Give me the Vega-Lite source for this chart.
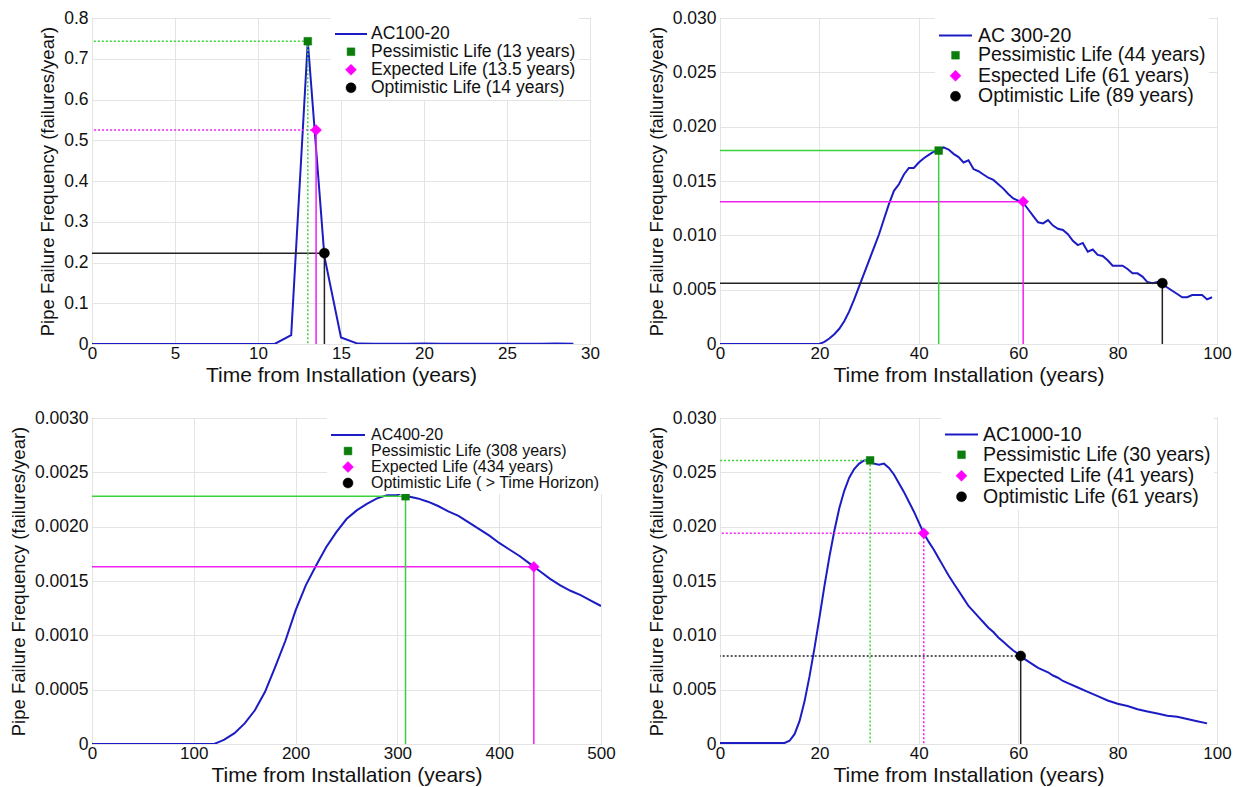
{
  "$schema": "https://vega.github.io/schema/vega-lite/v6.json",
  "padding": {"left": 8, "top": 8, "right": 0, "bottom": 0},
  "background": "white",
  "datasets": {
    "c1": [{"t":0,"f":0},{"t":1,"f":0},{"t":2,"f":0},{"t":3,"f":0},{"t":4,"f":0},{"t":5,"f":0},{"t":6,"f":0},{"t":7,"f":0},{"t":8,"f":0},{"t":9,"f":0},{"t":10,"f":0},{"t":11,"f":0},{"t":12,"f":0.022},{"t":13,"f":0.743},{"t":14,"f":0.215},{"t":15,"f":0.016},{"t":16,"f":0.001},{"t":17,"f":0.0005},{"t":18,"f":0.0005},{"t":19,"f":0.0005},{"t":20,"f":0.001},{"t":21,"f":0.0005},{"t":22,"f":0.0005},{"t":23,"f":0.0005},{"t":24,"f":0.0005},{"t":25,"f":0.0005},{"t":26,"f":0.0005},{"t":27,"f":0.0005},{"t":28,"f":0.001},{"t":29,"f":0.0005}],
    "m1": [{"kind":"P","label":"Pessimistic Life (13 years)","x":13,"y":0.743},{"kind":"E","label":"Expected Life (13.5 years)","x":13.5,"y":0.525},{"kind":"O","label":"Optimistic Life (14 years)","x":14,"y":0.223}],
    "c2": [{"t":0,"f":0},{"t":5,"f":0},{"t":10,"f":0},{"t":15,"f":0},{"t":20,"f":0},{"t":21,"f":0.0002},{"t":22,"f":0.0005},{"t":23,"f":0.0009},{"t":24,"f":0.0014},{"t":25,"f":0.0021},{"t":26,"f":0.003},{"t":27,"f":0.0041},{"t":28,"f":0.0053},{"t":29,"f":0.0065},{"t":30,"f":0.0077},{"t":31,"f":0.0089},{"t":32,"f":0.0101},{"t":33,"f":0.0115},{"t":34,"f":0.0129},{"t":35,"f":0.0141},{"t":36,"f":0.0147},{"t":37,"f":0.0156},{"t":38,"f":0.0162},{"t":39,"f":0.0162},{"t":40,"f":0.0167},{"t":41,"f":0.0171},{"t":42,"f":0.0174},{"t":43,"f":0.0177},{"t":44,"f":0.0178},{"t":45,"f":0.0181},{"t":46,"f":0.0179},{"t":47,"f":0.0175},{"t":48,"f":0.0172},{"t":49,"f":0.0167},{"t":50,"f":0.0169},{"t":51,"f":0.0161},{"t":52,"f":0.0159},{"t":53,"f":0.0156},{"t":54,"f":0.0153},{"t":55,"f":0.0151},{"t":56,"f":0.0147},{"t":57,"f":0.0143},{"t":58,"f":0.0138},{"t":59,"f":0.0134},{"t":60,"f":0.0132},{"t":61,"f":0.013},{"t":62,"f":0.0124},{"t":63,"f":0.0118},{"t":64,"f":0.0112},{"t":65,"f":0.0111},{"t":66,"f":0.0114},{"t":67,"f":0.0109},{"t":68,"f":0.0106},{"t":69,"f":0.0105},{"t":70,"f":0.0101},{"t":71,"f":0.0095},{"t":72,"f":0.0091},{"t":73,"f":0.0093},{"t":74,"f":0.0085},{"t":75,"f":0.0087},{"t":76,"f":0.0082},{"t":77,"f":0.0081},{"t":78,"f":0.0077},{"t":79,"f":0.0072},{"t":80,"f":0.0072},{"t":81,"f":0.0072},{"t":82,"f":0.0069},{"t":83,"f":0.0065},{"t":84,"f":0.0065},{"t":85,"f":0.0062},{"t":86,"f":0.0057},{"t":87,"f":0.0056},{"t":88,"f":0.0057},{"t":89,"f":0.0055},{"t":90,"f":0.0052},{"t":91,"f":0.0049},{"t":92,"f":0.0046},{"t":93,"f":0.0043},{"t":94,"f":0.0043},{"t":95,"f":0.0045},{"t":96,"f":0.0045},{"t":97,"f":0.0045},{"t":98,"f":0.0041},{"t":99,"f":0.0043}],
    "m2": [{"kind":"P","label":"Pessimistic Life (44 years)","x":44,"y":0.0178},{"kind":"E","label":"Espected Life (61 years)","x":61,"y":0.0131},{"kind":"O","label":"Optimistic Life (89 years)","x":89,"y":0.0056}],
    "c3": [{"t":0,"f":0},{"t":20,"f":0},{"t":40,"f":0},{"t":60,"f":0},{"t":80,"f":0},{"t":100,"f":0},{"t":120,"f":0},{"t":125,"f":0.00002},{"t":130,"f":0.00004},{"t":140,"f":0.0001},{"t":150,"f":0.00019},{"t":160,"f":0.00031},{"t":170,"f":0.00048},{"t":180,"f":0.00071},{"t":190,"f":0.00095},{"t":200,"f":0.00123},{"t":210,"f":0.00146},{"t":220,"f":0.00164},{"t":230,"f":0.00181},{"t":240,"f":0.00195},{"t":250,"f":0.00207},{"t":260,"f":0.00215},{"t":270,"f":0.00221},{"t":280,"f":0.00226},{"t":290,"f":0.00229},{"t":300,"f":0.00229},{"t":305,"f":0.00232},{"t":310,"f":0.00228},{"t":320,"f":0.00226},{"t":330,"f":0.00223},{"t":340,"f":0.00219},{"t":350,"f":0.00214},{"t":360,"f":0.0021},{"t":370,"f":0.00204},{"t":380,"f":0.00198},{"t":390,"f":0.00192},{"t":400,"f":0.00185},{"t":410,"f":0.00179},{"t":420,"f":0.00173},{"t":430,"f":0.00166},{"t":440,"f":0.00159},{"t":450,"f":0.00152},{"t":460,"f":0.00146},{"t":470,"f":0.00141},{"t":480,"f":0.00137},{"t":490,"f":0.00132},{"t":500,"f":0.00127}],
    "m3": [{"kind":"P","label":"Pessimistic Life (308 years)","x":308,"y":0.00228},{"kind":"E","label":"Expected Life (434 years)","x":434,"y":0.00163}],
    "c4": [{"t":0,"f":0.0001},{"t":5,"f":0.0001},{"t":10,"f":0.0001},{"t":13,"f":0.0001},{"t":14,"f":0.0003},{"t":15,"f":0.0009},{"t":16,"f":0.0021},{"t":17,"f":0.0039},{"t":18,"f":0.0062},{"t":19,"f":0.0088},{"t":20,"f":0.0116},{"t":21,"f":0.0145},{"t":22,"f":0.0172},{"t":23,"f":0.0196},{"t":24,"f":0.0217},{"t":25,"f":0.0233},{"t":26,"f":0.0245},{"t":27,"f":0.0253},{"t":28,"f":0.0258},{"t":29,"f":0.0261},{"t":30,"f":0.0261},{"t":31,"f":0.0258},{"t":32,"f":0.0257},{"t":33,"f":0.0258},{"t":34,"f":0.0254},{"t":35,"f":0.0248},{"t":36,"f":0.024},{"t":37,"f":0.0232},{"t":38,"f":0.0223},{"t":39,"f":0.0214},{"t":40,"f":0.0204},{"t":41,"f":0.0194},{"t":42,"f":0.0186},{"t":43,"f":0.0179},{"t":44,"f":0.0171},{"t":45,"f":0.0163},{"t":46,"f":0.0155},{"t":47,"f":0.0148},{"t":48,"f":0.0141},{"t":49,"f":0.0134},{"t":50,"f":0.0127},{"t":51,"f":0.0122},{"t":52,"f":0.0117},{"t":53,"f":0.0112},{"t":54,"f":0.0107},{"t":55,"f":0.0103},{"t":56,"f":0.0098},{"t":57,"f":0.0094},{"t":58,"f":0.009},{"t":59,"f":0.0086},{"t":60,"f":0.0083},{"t":61,"f":0.0079},{"t":62,"f":0.0076},{"t":63,"f":0.0073},{"t":64,"f":0.007},{"t":65,"f":0.0068},{"t":66,"f":0.0066},{"t":67,"f":0.0063},{"t":68,"f":0.0061},{"t":69,"f":0.0058},{"t":70,"f":0.0056},{"t":72,"f":0.0052},{"t":74,"f":0.0048},{"t":76,"f":0.0044},{"t":78,"f":0.004},{"t":80,"f":0.0037},{"t":82,"f":0.0035},{"t":84,"f":0.0032},{"t":86,"f":0.003},{"t":88,"f":0.0028},{"t":90,"f":0.0026},{"t":92,"f":0.0025},{"t":94,"f":0.0023},{"t":96,"f":0.0021},{"t":98,"f":0.0019}],
    "m4": [{"kind":"P","label":"Pessimistic Life (30 years)","x":30.2,"y":0.0261},{"kind":"E","label":"Expected Life (41 years)","x":41,"y":0.0194},{"kind":"O","label":"Optimistic Life (61 years)","x":60.5,"y":0.0081}]
  },
  "columns": 2,
  "spacing": {"row": 74, "column": 119},
  "bounds": "flush",
  "concat": [
    {
      "width": 498, "height": 326,
      "layer": [
        {
          "data": {"name": "c1"},
          "mark": {"type": "line", "strokeWidth": 2, "clip": true, "stroke": "#1c1cc4"},
          "encoding": {
            "x": {"field": "t", "type": "quantitative", "scale": {"domain": [0, 30], "nice": false, "zero": false}, "axis": {"values": [0,5,10,15,20,25,30], "title": "Time from Installation (years)"}},
            "y": {"field": "f", "type": "quantitative", "scale": {"domain": [0, 0.8], "nice": false}, "axis": {"values": [0,0.1,0.2,0.3,0.4,0.5,0.6,0.7,0.8], "labelExpr": "datum.value === 0 ? '0' : format(datum.value, '.1f')", "title": "Pipe Failure Frequency (failures/year)"}}
          }
        },
        {
          "data": {"name": "m1"},
          "mark": {"type": "rule", "strokeWidth": 1.5},
          "encoding": {
            "x": {"field": "x", "type": "quantitative"}, "x2": {"datum": 0},
            "y": {"field": "y", "type": "quantitative"},
            "color": {"field": "kind", "type": "nominal", "scale": {"domain": ["P","E","O"], "range": ["#3ad43a","#f020f0","#222222"]}, "legend": null},
            "strokeDash": {"field": "kind", "type": "nominal", "scale": {"domain": ["P","E","O"], "range": [[2,2],[2,2],[1,0]]}, "legend": null}
          }
        },
        {
          "data": {"name": "m1"},
          "mark": {"type": "rule", "strokeWidth": 1.5},
          "encoding": {
            "x": {"field": "x", "type": "quantitative"},
            "y": {"field": "y", "type": "quantitative"}, "y2": {"datum": 0},
            "color": {"field": "kind", "type": "nominal", "scale": {"domain": ["P","E","O"], "range": ["#3ad43a","#f020f0","#222222"]}, "legend": null},
            "strokeDash": {"field": "kind", "type": "nominal", "scale": {"domain": ["P","E","O"], "range": [[2,2],[1,0],[1,0]]}, "legend": null}
          }
        },
        {
          "data": {"name": "m1"},
          "mark": {"type": "point", "opacity": 1},
          "encoding": {
            "x": {"field": "x", "type": "quantitative"},
            "y": {"field": "y", "type": "quantitative"},
            "stroke": {"field": "label", "type": "nominal", "scale": {"domain": ["AC100-20","Pessimistic Life (13 years)","Expected Life (13.5 years)","Optimistic Life (14 years)"], "range": ["#1c1cc4","#0a7d0a","#ff00ff","#000000"]},
              "legend": {"title": null, "orient": "none", "legendX": 239, "legendY": -4, "labelFontSize": 17.5, "labelOffset": 3, "rowPadding": -1.5}},
            "fill": {"field": "label", "type": "nominal", "scale": {"domain": ["AC100-20","Pessimistic Life (13 years)","Expected Life (13.5 years)","Optimistic Life (14 years)"], "range": ["transparent","#0a7d0a","#ff00ff","#000000"]}, "legend": {"title": null}},
            "shape": {"field": "label", "type": "nominal", "scale": {"domain": ["AC100-20","Pessimistic Life (13 years)","Expected Life (13.5 years)","Optimistic Life (14 years)"], "range": ["stroke","square","diamond","circle"]}, "legend": {"title": null}},
            "size": {"field": "label", "type": "nominal", "scale": {"type": "ordinal", "domain": ["AC100-20","Pessimistic Life (13 years)","Expected Life (13.5 years)","Optimistic Life (14 years)"], "range": [1024,60,120,100]}, "legend": {"title": null}},
            "strokeWidth": {"field": "label", "type": "nominal", "scale": {"type": "ordinal", "domain": ["AC100-20","Pessimistic Life (13 years)","Expected Life (13.5 years)","Optimistic Life (14 years)"], "range": [2,0.5,0.5,0.5]}, "legend": {"title": null}}
          }
        }
      ],
      "resolve": {"scale": {"strokeDash": "independent"}}
    },
    {
      "width": 497, "height": 326,
      "layer": [
        {
          "data": {"name": "c2"},
          "mark": {"type": "line", "strokeWidth": 2, "clip": true, "stroke": "#1c1cc4"},
          "encoding": {
            "x": {"field": "t", "type": "quantitative", "scale": {"domain": [0, 100], "nice": false, "zero": false}, "axis": {"values": [0,20,40,60,80,100], "title": "Time from Installation (years)"}},
            "y": {"field": "f", "type": "quantitative", "scale": {"domain": [0, 0.03], "nice": false}, "axis": {"values": [0,0.005,0.01,0.015,0.02,0.025,0.03], "labelExpr": "datum.value === 0 ? '0' : format(datum.value, '.3f')", "title": "Pipe Failure Frequency (failures/year)"}}
          }
        },
        {
          "data": {"name": "m2"},
          "mark": {"type": "rule", "strokeWidth": 1.5},
          "encoding": {
            "x": {"field": "x", "type": "quantitative"}, "x2": {"datum": 0},
            "y": {"field": "y", "type": "quantitative"},
            "color": {"field": "kind", "type": "nominal", "scale": {"domain": ["P","E","O"], "range": ["#3ad43a","#f020f0","#222222"]}, "legend": null}
          }
        },
        {
          "data": {"name": "m2"},
          "mark": {"type": "rule", "strokeWidth": 1.5},
          "encoding": {
            "x": {"field": "x", "type": "quantitative"},
            "y": {"field": "y", "type": "quantitative"}, "y2": {"datum": 0},
            "color": {"field": "kind", "type": "nominal", "scale": {"domain": ["P","E","O"], "range": ["#3ad43a","#f020f0","#222222"]}, "legend": null}
          }
        },
        {
          "data": {"name": "m2"},
          "mark": {"type": "point", "opacity": 1},
          "encoding": {
            "x": {"field": "x", "type": "quantitative"},
            "y": {"field": "y", "type": "quantitative"},
            "stroke": {"field": "label", "type": "nominal", "scale": {"domain": ["AC 300-20","Pessimistic Life (44 years)","Espected Life (61 years)","Optimistic Life (89 years)"], "range": ["#1c1cc4","#0a7d0a","#ff00ff","#000000"]},
              "legend": {"title": null, "orient": "none", "legendX": 215, "legendY": -3, "labelFontSize": 19.5, "labelOffset": 5, "rowPadding": -0.5}},
            "fill": {"field": "label", "type": "nominal", "scale": {"domain": ["AC 300-20","Pessimistic Life (44 years)","Espected Life (61 years)","Optimistic Life (89 years)"], "range": ["transparent","#0a7d0a","#ff00ff","#000000"]}, "legend": {"title": null}},
            "shape": {"field": "label", "type": "nominal", "scale": {"domain": ["AC 300-20","Pessimistic Life (44 years)","Espected Life (61 years)","Optimistic Life (89 years)"], "range": ["stroke","square","diamond","circle"]}, "legend": {"title": null}},
            "size": {"field": "label", "type": "nominal", "scale": {"type": "ordinal", "domain": ["AC 300-20","Pessimistic Life (44 years)","Espected Life (61 years)","Optimistic Life (89 years)"], "range": [1089,60,120,100]}, "legend": {"title": null}},
            "strokeWidth": {"field": "label", "type": "nominal", "scale": {"type": "ordinal", "domain": ["AC 300-20","Pessimistic Life (44 years)","Espected Life (61 years)","Optimistic Life (89 years)"], "range": [2,0.5,0.5,0.5]}, "legend": {"title": null}}
          }
        }
      ]
    },
    {
      "width": 509, "height": 326,
      "layer": [
        {
          "data": {"name": "c3"},
          "mark": {"type": "line", "strokeWidth": 2, "clip": true, "stroke": "#1c1cc4"},
          "encoding": {
            "x": {"field": "t", "type": "quantitative", "scale": {"domain": [0, 500], "nice": false, "zero": false}, "axis": {"values": [0,100,200,300,400,500], "title": "Time from Installation (years)"}},
            "y": {"field": "f", "type": "quantitative", "scale": {"domain": [0, 0.003], "nice": false}, "axis": {"values": [0,0.0005,0.001,0.0015,0.002,0.0025,0.003], "labelExpr": "datum.value === 0 ? '0' : format(datum.value, '.4f')", "title": "Pipe Failure Frequency (failures/year)"}}
          }
        },
        {
          "data": {"name": "m3"},
          "mark": {"type": "rule", "strokeWidth": 1.5},
          "encoding": {
            "x": {"field": "x", "type": "quantitative"}, "x2": {"datum": 0},
            "y": {"field": "y", "type": "quantitative"},
            "color": {"field": "kind", "type": "nominal", "scale": {"domain": ["P","E","O"], "range": ["#3ad43a","#f020f0","#222222"]}, "legend": null}
          }
        },
        {
          "data": {"name": "m3"},
          "mark": {"type": "rule", "strokeWidth": 1.5},
          "encoding": {
            "x": {"field": "x", "type": "quantitative"},
            "y": {"field": "y", "type": "quantitative"}, "y2": {"datum": 0},
            "color": {"field": "kind", "type": "nominal", "scale": {"domain": ["P","E","O"], "range": ["#3ad43a","#f020f0","#222222"]}, "legend": null}
          }
        },
        {
          "data": {"name": "m3"},
          "mark": {"type": "point", "opacity": 1},
          "encoding": {
            "x": {"field": "x", "type": "quantitative"},
            "y": {"field": "y", "type": "quantitative"},
            "stroke": {"field": "label", "type": "nominal", "scale": {"domain": ["AC400-20","Pessimistic Life (308 years)","Expected Life (434 years)","Optimistic Life ( > Time Horizon)"], "range": ["#1c1cc4","#0a7d0a","#ff00ff","#000000"]},
              "legend": {"title": null, "orient": "none", "legendX": 235, "legendY": -4, "labelFontSize": 16, "labelOffset": 5, "rowPadding": -0.7}},
            "fill": {"field": "label", "type": "nominal", "scale": {"domain": ["AC400-20","Pessimistic Life (308 years)","Expected Life (434 years)","Optimistic Life ( > Time Horizon)"], "range": ["transparent","#0a7d0a","#ff00ff","#000000"]}, "legend": {"title": null}},
            "shape": {"field": "label", "type": "nominal", "scale": {"domain": ["AC400-20","Pessimistic Life (308 years)","Expected Life (434 years)","Optimistic Life ( > Time Horizon)"], "range": ["stroke","square","diamond","circle"]}, "legend": {"title": null}},
            "size": {"field": "label", "type": "nominal", "scale": {"type": "ordinal", "domain": ["AC400-20","Pessimistic Life (308 years)","Expected Life (434 years)","Optimistic Life ( > Time Horizon)"], "range": [1156,60,120,100]}, "legend": {"title": null}},
            "strokeWidth": {"field": "label", "type": "nominal", "scale": {"type": "ordinal", "domain": ["AC400-20","Pessimistic Life (308 years)","Expected Life (434 years)","Optimistic Life ( > Time Horizon)"], "range": [2,0.5,0.5,0.5]}, "legend": {"title": null}}
          }
        }
      ]
    },
    {
      "width": 497, "height": 326,
      "layer": [
        {
          "data": {"name": "c4"},
          "mark": {"type": "line", "strokeWidth": 2, "clip": true, "stroke": "#1c1cc4"},
          "encoding": {
            "x": {"field": "t", "type": "quantitative", "scale": {"domain": [0, 100], "nice": false, "zero": false}, "axis": {"values": [0,20,40,60,80,100], "title": "Time from Installation (years)"}},
            "y": {"field": "f", "type": "quantitative", "scale": {"domain": [0, 0.03], "nice": false}, "axis": {"values": [0,0.005,0.01,0.015,0.02,0.025,0.03], "labelExpr": "datum.value === 0 ? '0' : format(datum.value, '.3f')", "title": "Pipe Failure Frequency (failures/year)"}}
          }
        },
        {
          "data": {"name": "m4"},
          "mark": {"type": "rule", "strokeWidth": 1.5},
          "encoding": {
            "x": {"field": "x", "type": "quantitative"}, "x2": {"datum": 0},
            "y": {"field": "y", "type": "quantitative"},
            "color": {"field": "kind", "type": "nominal", "scale": {"domain": ["P","E","O"], "range": ["#3ad43a","#f020f0","#222222"]}, "legend": null},
            "strokeDash": {"field": "kind", "type": "nominal", "scale": {"domain": ["P","E","O"], "range": [[2,2],[2,2],[2,2]]}, "legend": null}
          }
        },
        {
          "data": {"name": "m4"},
          "mark": {"type": "rule", "strokeWidth": 1.5},
          "encoding": {
            "x": {"field": "x", "type": "quantitative"},
            "y": {"field": "y", "type": "quantitative"}, "y2": {"datum": 0},
            "color": {"field": "kind", "type": "nominal", "scale": {"domain": ["P","E","O"], "range": ["#3ad43a","#f020f0","#222222"]}, "legend": null},
            "strokeDash": {"field": "kind", "type": "nominal", "scale": {"domain": ["P","E","O"], "range": [[2,2],[2,2],[1,0]]}, "legend": null}
          }
        },
        {
          "data": {"name": "m4"},
          "mark": {"type": "point", "opacity": 1},
          "encoding": {
            "x": {"field": "x", "type": "quantitative"},
            "y": {"field": "y", "type": "quantitative"},
            "stroke": {"field": "label", "type": "nominal", "scale": {"domain": ["AC1000-10","Pessimistic Life (30 years)","Expected Life (41 years)","Optimistic Life (61 years)"], "range": ["#1c1cc4","#0a7d0a","#ff00ff","#000000"]},
              "legend": {"title": null, "orient": "none", "legendX": 221, "legendY": -4, "labelFontSize": 19.5, "labelOffset": 4, "rowPadding": 0}},
            "fill": {"field": "label", "type": "nominal", "scale": {"domain": ["AC1000-10","Pessimistic Life (30 years)","Expected Life (41 years)","Optimistic Life (61 years)"], "range": ["transparent","#0a7d0a","#ff00ff","#000000"]}, "legend": {"title": null}},
            "shape": {"field": "label", "type": "nominal", "scale": {"domain": ["AC1000-10","Pessimistic Life (30 years)","Expected Life (41 years)","Optimistic Life (61 years)"], "range": ["stroke","square","diamond","circle"]}, "legend": {"title": null}},
            "size": {"field": "label", "type": "nominal", "scale": {"type": "ordinal", "domain": ["AC1000-10","Pessimistic Life (30 years)","Expected Life (41 years)","Optimistic Life (61 years)"], "range": [1089,60,120,100]}, "legend": {"title": null}},
            "strokeWidth": {"field": "label", "type": "nominal", "scale": {"type": "ordinal", "domain": ["AC1000-10","Pessimistic Life (30 years)","Expected Life (41 years)","Optimistic Life (61 years)"], "range": [2,0.5,0.5,0.5]}, "legend": {"title": null}}
          }
        }
      ],
      "resolve": {"scale": {"strokeDash": "independent"}}
    }
  ],
  "resolve": {"scale": {"color": "independent", "stroke": "independent", "fill": "independent", "shape": "independent", "size": "independent", "strokeWidth": "independent", "strokeDash": "independent"}},
  "config": {
    "font": "Liberation Sans",
    "view": {"stroke": "#8c8c8c", "strokeWidth": 1},
    "axis": {"domain": false, "ticks": false, "grid": true, "gridColor": "#e4e4e4", "labelFontSize": 17.5, "labelColor": "#111111", "labelPadding": 4, "titleColor": "#111111", "titleFontWeight": "normal", "labelFont": "Liberation Sans", "titleFont": "Liberation Sans", "labelFlush": false, "labelOverlap": false, "labelBound": false},
    "axisX": {"titleFontSize": 21, "titlePadding": 3, "labelPadding": 1, "labelFontSize": 17},
    "axisY": {"titleFontSize": 18.5, "titlePadding": 6},
    "legend": {"fillColor": "white", "padding": 3, "labelFont": "Liberation Sans", "labelColor": "#111111", "labelLimit": 500, "symbolOpacity": 1}
  }
}
